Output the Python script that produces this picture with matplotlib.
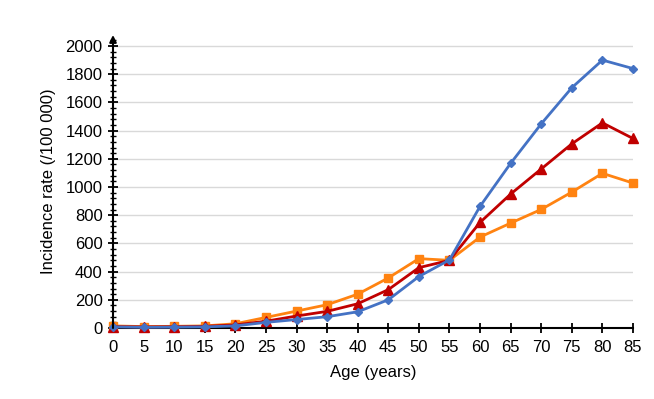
import matplotlib
matplotlib.use("Agg")
import matplotlib.pyplot as plt
from matplotlib.ticker import MultipleLocator

plt.rcParams['font.family'] = ['Liberation Sans', 'DejaVu Sans']

# ── data ──
ages = [0, 5, 10, 15, 20, 25, 30, 35, 40, 45, 50, 55, 60, 65, 70, 75, 80, 85]
blue = [8, 5, 6, 8, 15, 40, 60, 80, 115, 200, 365, 483, 863, 1168, 1448, 1704, 1900, 1840]
red = [10, 8, 9, 12, 22, 48, 85, 118, 172, 272, 428, 480, 749, 950, 1128, 1306, 1455, 1344]
orange = [15, 10, 12, 15, 30, 75, 120, 165, 240, 355, 492, 480, 645, 744, 841, 964, 1097, 1028]

fig = plt.figure(figsize=(6.54, 3.99), dpi=100, facecolor='white')
ax = fig.add_axes([113 / 654, 71 / 399, 520 / 654, 293 / 399])

ax.set_xlim(0, 85)
ax.set_ylim(0, 2078)

# gridlines (up to 2000 only)
for y in range(200, 2001, 200):
    ax.axhline(y, color='#d9d9d9', lw=1.0, zorder=0)

ax.plot(ages, orange, color='#FF8311', lw=2.0, marker='s', ms=6, zorder=3, clip_on=False)
ax.plot(ages, red, color='#C00000', lw=2.0, marker='^', ms=7, zorder=4, clip_on=False)
ax.plot(ages, blue, color='#4472C4', lw=2.0, marker='D', ms=4.5, zorder=5, clip_on=False)

# axes
for s in ['top', 'right', 'left']:
    ax.spines[s].set_visible(False)
ax.spines['bottom'].set_linewidth(1.5)
ax.spines['bottom'].set_zorder(2)
ax.annotate('', xy=(0, 2078), xytext=(0, 0), xycoords='data',
            arrowprops=dict(arrowstyle='-|>', color='black', lw=1.5,
                            mutation_scale=10, shrinkA=0, shrinkB=0),
            annotation_clip=False, zorder=6)

ax.set_xticks(ages)
ax.yaxis.set_major_locator(MultipleLocator(200))
ax.yaxis.set_minor_locator(MultipleLocator(40))
ax.set_yticks(range(0, 2001, 200))
ax.tick_params(axis='y', which='major', direction='inout', length=7, width=1.3,
               labelsize=12, pad=4)
ax.tick_params(axis='y', which='minor', direction='inout', length=4, width=1.0)
ax.tick_params(axis='x', which='major', direction='inout', length=7, width=1.3,
               labelsize=12, pad=5)

ax.set_xlabel('Age (years)', fontsize=12, labelpad=7)
ax.set_ylabel('Incidence rate (/100 000)', fontsize=12, labelpad=7)

fig.savefig('out.png', dpi=100, facecolor='white')
